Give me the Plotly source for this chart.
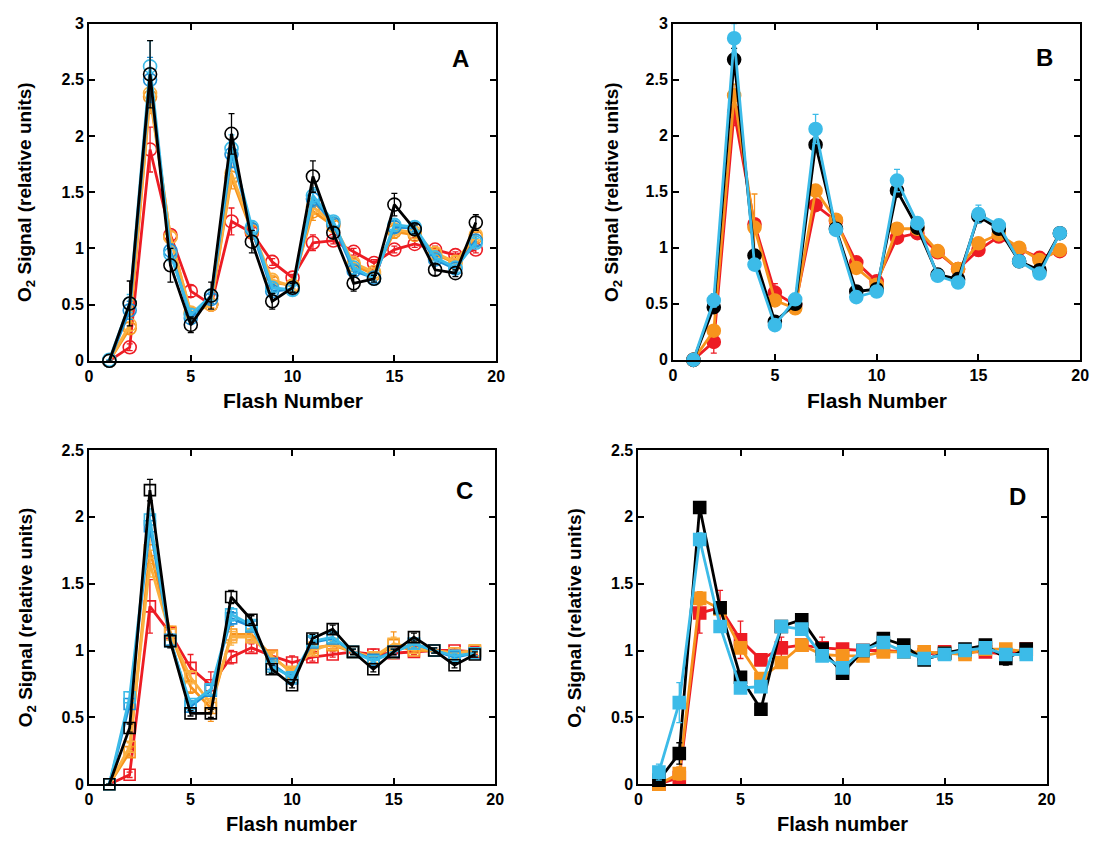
import plotly.graph_objects as go

flash = list(range(1, 20))

# ---------------- Panel A (open circles) ----------------
A_black = [0.0, 0.51, 2.55, 0.85, 0.32, 0.58, 2.02, 1.06, 0.53, 0.65, 1.64, 1.14, 0.69, 0.73, 1.39, 1.17, 0.81, 0.78, 1.23]
A_black_err = [0.0, 0.2, 0.3, 0.15, 0.07, 0.12, 0.18, 0.1, 0.07, 0.04, 0.14, 0.05, 0.07, 0.03, 0.1, 0.04, 0.05, 0.03, 0.07]
A_red = [0.0, 0.12, 1.88, 1.12, 0.62, 0.5, 1.24, 1.14, 0.88, 0.74, 1.05, 1.07, 0.97, 0.87, 0.99, 1.04, 0.99, 0.94, 0.99]
A_red_err = [0.0, 0.03, 0.2, 0.04, 0.05, 0.03, 0.12, 0.04, 0.03, 0.03, 0.07, 0.03, 0.03, 0.03, 0.03, 0.03, 0.03, 0.03, 0.03]
A_orange = [0.0, 0.29, 2.35, 1.1, 0.42, 0.5, 1.63, 1.15, 0.7, 0.67, 1.33, 1.2, 0.85, 0.77, 1.15, 1.12, 0.95, 0.87, 1.1]
A_orange_err = [0.0, 0.05, 0.15, 0.05, 0.05, 0.03, 0.1, 0.05, 0.04, 0.03, 0.08, 0.04, 0.03, 0.03, 0.06, 0.03, 0.03, 0.03, 0.04]
A_lorange = [0.0, 0.32, 2.38, 1.1, 0.43, 0.5, 1.67, 1.17, 0.72, 0.66, 1.37, 1.22, 0.87, 0.79, 1.17, 1.14, 0.96, 0.88, 1.12]
A_lorange_err = [0.0, 0.05, 0.12, 0.05, 0.05, 0.03, 0.1, 0.05, 0.04, 0.03, 0.07, 0.04, 0.03, 0.03, 0.05, 0.03, 0.03, 0.03, 0.04]
A_blue = [0.0, 0.45, 2.5, 0.98, 0.38, 0.55, 1.84, 1.17, 0.62, 0.64, 1.44, 1.22, 0.8, 0.74, 1.19, 1.18, 0.9, 0.82, 1.07]
A_blue_err = [0.0, 0.08, 0.2, 0.06, 0.05, 0.04, 0.12, 0.05, 0.04, 0.03, 0.07, 0.04, 0.03, 0.03, 0.05, 0.03, 0.03, 0.03, 0.04]
A_cyan = [0.01, 0.51, 2.62, 0.95, 0.41, 0.58, 1.89, 1.19, 0.65, 0.63, 1.47, 1.24, 0.83, 0.73, 1.21, 1.19, 0.92, 0.83, 1.05]
A_cyan_err = [0.0, 0.08, 0.23, 0.06, 0.05, 0.04, 0.12, 0.05, 0.04, 0.03, 0.07, 0.04, 0.03, 0.03, 0.05, 0.03, 0.03, 0.03, 0.04]

# ---------------- Panel B (filled circles) ----------------
B_black = [0.0, 0.47, 2.68, 0.93, 0.34, 0.5, 1.92, 1.17, 0.61, 0.63, 1.51, 1.18, 0.76, 0.72, 1.28, 1.17, 0.88, 0.8, 1.13]
B_black_err = [0.0, 0.05, 0.1, 0.05, 0.03, 0.03, 0.06, 0.03, 0.03, 0.03, 0.05, 0.03, 0.03, 0.03, 0.04, 0.03, 0.03, 0.03, 0.03]
B_red = [0.0, 0.16, 2.21, 1.21, 0.6, 0.49, 1.38, 1.24, 0.87, 0.7, 1.09, 1.13, 0.96, 0.81, 0.98, 1.1, 0.99, 0.91, 0.97]
B_red_err = [0.0, 0.1, 0.12, 0.04, 0.08, 0.03, 0.04, 0.03, 0.03, 0.03, 0.03, 0.03, 0.03, 0.03, 0.03, 0.03, 0.03, 0.03, 0.03]
B_orange = [0.0, 0.26, 2.36, 1.18, 0.53, 0.46, 1.51, 1.25, 0.82, 0.67, 1.17, 1.17, 0.97, 0.81, 1.04, 1.12, 1.0, 0.89, 0.98]
B_orange_err = [0.0, 0.04, 0.1, 0.3, 0.04, 0.03, 0.04, 0.03, 0.03, 0.03, 0.03, 0.03, 0.03, 0.03, 0.03, 0.03, 0.03, 0.03, 0.03]
B_cyan = [0.0, 0.53, 2.87, 0.85, 0.31, 0.54, 2.06, 1.16, 0.56, 0.61, 1.6, 1.22, 0.75, 0.69, 1.3, 1.2, 0.88, 0.77, 1.13]
B_cyan_err = [0.0, 0.06, 0.13, 0.05, 0.03, 0.03, 0.13, 0.03, 0.03, 0.03, 0.1, 0.03, 0.03, 0.03, 0.08, 0.03, 0.03, 0.03, 0.03]

# ---------------- Panel C (open squares) ----------------
C_black = [0.0, 0.42, 2.2, 1.07, 0.53, 0.53, 1.4, 1.23, 0.86, 0.74, 1.09, 1.16, 0.99, 0.86, 0.99, 1.1, 1.0, 0.89, 0.97]
C_black_err = [0.0, 0.03, 0.08, 0.05, 0.02, 0.03, 0.05, 0.03, 0.03, 0.02, 0.03, 0.03, 0.02, 0.02, 0.02, 0.03, 0.02, 0.02, 0.02]
C_red = [0.0, 0.07, 1.33, 1.13, 0.87, 0.74, 0.95, 1.02, 0.96, 0.91, 0.95, 0.97, 0.99, 0.97, 0.98, 0.99, 1.0, 1.0, 0.99]
C_red_err = [0.0, 0.02, 0.2, 0.04, 0.1, 0.1, 0.05, 0.03, 0.03, 0.05, 0.03, 0.02, 0.02, 0.04, 0.02, 0.02, 0.02, 0.02, 0.02]
C_orange = [0.0, 0.24, 1.75, 1.14, 0.73, 0.57, 1.12, 1.12, 0.96, 0.83, 1.02, 1.04, 0.99, 0.94, 1.04, 1.0, 1.0, 0.98, 1.0]
C_orange_err = [0.0, 0.03, 0.1, 0.04, 0.05, 0.1, 0.06, 0.04, 0.03, 0.03, 0.03, 0.03, 0.02, 0.03, 0.1, 0.02, 0.02, 0.02, 0.02]
C_lorange = [0.0, 0.28, 1.65, 1.12, 0.8, 0.6, 1.1, 1.1, 0.95, 0.84, 1.0, 1.05, 0.99, 0.95, 1.05, 1.02, 1.0, 0.98, 1.0]
C_lorange_err = [0.0, 0.03, 0.1, 0.04, 0.05, 0.06, 0.06, 0.04, 0.03, 0.03, 0.03, 0.03, 0.02, 0.03, 0.05, 0.02, 0.02, 0.02, 0.02]
C_blue = [0.0, 0.6, 1.93, 1.08, 0.58, 0.7, 1.24, 1.18, 0.9, 0.79, 1.06, 1.09, 0.99, 0.93, 0.99, 1.05, 1.0, 0.95, 0.98]
C_blue_err = [0.0, 0.04, 0.08, 0.04, 0.04, 0.04, 0.05, 0.03, 0.03, 0.03, 0.03, 0.03, 0.02, 0.02, 0.02, 0.03, 0.02, 0.02, 0.02]
C_cyan = [0.0, 0.65, 1.98, 1.07, 0.6, 0.71, 1.27, 1.19, 0.88, 0.8, 1.07, 1.1, 0.99, 0.92, 0.99, 1.05, 1.0, 0.96, 0.98]
C_cyan_err = [0.0, 0.04, 0.08, 0.04, 0.04, 0.04, 0.05, 0.03, 0.03, 0.03, 0.03, 0.03, 0.02, 0.02, 0.02, 0.03, 0.02, 0.02, 0.02]

# ---------------- Panel D (filled squares) ----------------
D_black = [0.03, 0.23, 2.07, 1.32, 0.8, 0.56, 1.18, 1.23, 1.01, 0.83, 1.0, 1.09, 1.04, 0.93, 0.98, 1.01, 1.04, 0.94, 1.01]
D_black_err = [0.02, 0.08, 0.04, 0.04, 0.03, 0.03, 0.03, 0.03, 0.03, 0.03, 0.02, 0.03, 0.02, 0.03, 0.02, 0.02, 0.02, 0.05, 0.02]
D_red = [0.0, 0.05, 1.28, 1.32, 1.08, 0.93, 1.02, 1.04, 1.02, 1.01, 1.0, 1.0, 0.99, 0.97, 0.99, 0.99, 0.99, 0.97, 1.01]
D_red_err = [0.0, 0.03, 0.15, 0.13, 0.14, 0.04, 0.08, 0.03, 0.08, 0.03, 0.02, 0.02, 0.02, 0.02, 0.02, 0.02, 0.03, 0.02, 0.02]
D_orange = [0.0, 0.08, 1.39, 1.31, 1.02, 0.79, 0.91, 1.04, 0.97, 0.96, 0.96, 0.99, 0.99, 0.99, 0.98, 0.97, 1.01, 1.01, 0.99]
D_orange_err = [0.0, 0.05, 0.05, 0.05, 0.04, 0.04, 0.03, 0.03, 0.03, 0.03, 0.02, 0.02, 0.02, 0.02, 0.02, 0.02, 0.02, 0.02, 0.02]
D_cyan = [0.09, 0.61, 1.83, 1.18, 0.72, 0.73, 1.18, 1.16, 0.96, 0.87, 1.0, 1.06, 0.99, 0.94, 0.97, 1.0, 1.02, 0.97, 0.97]
D_cyan_err = [0.06, 0.15, 0.05, 0.04, 0.03, 0.03, 0.04, 0.03, 0.03, 0.03, 0.02, 0.02, 0.02, 0.02, 0.02, 0.02, 0.02, 0.02, 0.02]

BLACK = "#000000"
RED = "#ed1c24"
ORANGE = "#f7941d"
LORANGE = "#fbb040"
BLUE = "#1f8fd6"
CYAN = "#3cbbe8"

fig = go.Figure()


def add(xa, ya, y, err, color, symbol, size):
    fig.add_trace(go.Scatter(
        x=flash, y=y, mode="lines+markers", xaxis=xa, yaxis=ya,
        line=dict(color=color, width=2.8),
        marker=dict(symbol=symbol, size=size, color=color,
                    line=dict(color=color, width=1.6)),
        error_y=dict(type="data", array=err, visible=True, color=color,
                     thickness=1.3, width=3),
        showlegend=False, cliponaxis=False))


panels = [
    ("x", "y", "circle-open", 13, [
        (A_red, A_red_err, RED), (A_orange, A_orange_err, ORANGE),
        (A_lorange, A_lorange_err, LORANGE), (A_blue, A_blue_err, BLUE),
        (A_cyan, A_cyan_err, CYAN), (A_black, A_black_err, BLACK)]),
    ("x2", "y2", "circle", 13, [
        (B_red, B_red_err, RED), (B_orange, B_orange_err, ORANGE),
        (B_black, B_black_err, BLACK), (B_cyan, B_cyan_err, CYAN)]),
    ("x3", "y3", "square-open", 11, [
        (C_red, C_red_err, RED), (C_orange, C_orange_err, ORANGE),
        (C_lorange, C_lorange_err, LORANGE), (C_blue, C_blue_err, BLUE),
        (C_cyan, C_cyan_err, CYAN), (C_black, C_black_err, BLACK)]),
    ("x4", "y4", "square", 12, [
        (D_red, D_red_err, RED), (D_orange, D_orange_err, ORANGE),
        (D_black, D_black_err, BLACK), (D_cyan, D_cyan_err, CYAN)]),
]
for xa, ya, sym, sz, series in panels:
    for y, e, c in series:
        add(xa, ya, y, e, c, sym, sz)

W, H = 1109, 851
FONT = "Liberation Sans, Arial, sans-serif"


def xd(a, b):
    return [a / W, b / W]


def yd(top, bottom):
    return [1 - bottom / H, 1 - top / H]


boxes = {
    "": (86, 498, 16, 360, 3),
    "2": (677, 1089, 16, 359, 3),
    "3": (86, 497, 451, 792, 2.5),
    "4": (642, 1055, 451, 792, 2.5),
}

axis_common = dict(showline=True, linecolor="black", linewidth=2, mirror="ticks",
                   ticks="inside", ticklen=6, tickwidth=1.5, tickcolor="black",
                   showgrid=False, zeroline=False,
                   tickfont=dict(family=FONT, size=16, color="black", weight="bold"))

layout = dict(width=W, height=H, margin=dict(l=0, r=0, t=0, b=0),
              paper_bgcolor="white", plot_bgcolor="white", autosize=False)
for k, (l, r, t, b, ymax) in boxes.items():
    layout["xaxis" + k] = dict(domain=xd(l, r), range=[0, 20], dtick=5, tick0=0,
                               anchor="y" + k, **axis_common)
    layout["yaxis" + k] = dict(domain=yd(t, b), range=[0, ymax], dtick=0.5, tick0=0,
                               anchor="x" + k, **axis_common)
fig.update_layout(**layout)

annotations = []
# Panel letters
for xr, yr, txt, xv, yv in [("x", "y", "A", 18.25, 2.69), ("x2", "y2", "B", 18.25, 2.70),
                            ("x3", "y3", "C", 18.5, 2.2), ("x4", "y4", "D", 18.55, 2.15)]:
    annotations.append(dict(x=xv, y=yv, xref=xr, yref=yr, text="<b>%s</b>" % txt,
                            xanchor="center", yanchor="middle",
                            showarrow=False, font=dict(family=FONT, size=24, color="black")))
# X titles
for cx, cy, txt, sz in [(292, 401, "Flash Number", 21), (883, 401, "Flash Number", 21),
                        (291, 833, "Flash number", 20), (848, 833, "Flash number", 20)]:
    annotations.append(dict(x=cx / W, y=1 - cy / H, xref="paper", yref="paper",
                            xanchor="center", yanchor="middle",
                            text="<b>%s</b>" % txt, showarrow=False,
                            font=dict(family=FONT, size=sz, color="black")))
# Y titles
for cx, cy in [(23, 188), (616, 188), (23, 622), (578, 622)]:
    annotations.append(dict(x=cx / W, y=1 - cy / H, xref="paper", yref="paper",
                            xanchor="center", yanchor="middle",
                            text="<b>O<sub>2</sub> Signal (relative units)</b>",
                            textangle=-90, showarrow=False,
                            font=dict(family=FONT, size=19, color="black")))
fig.update_layout(annotations=annotations)

fig.write_html("out.html")
